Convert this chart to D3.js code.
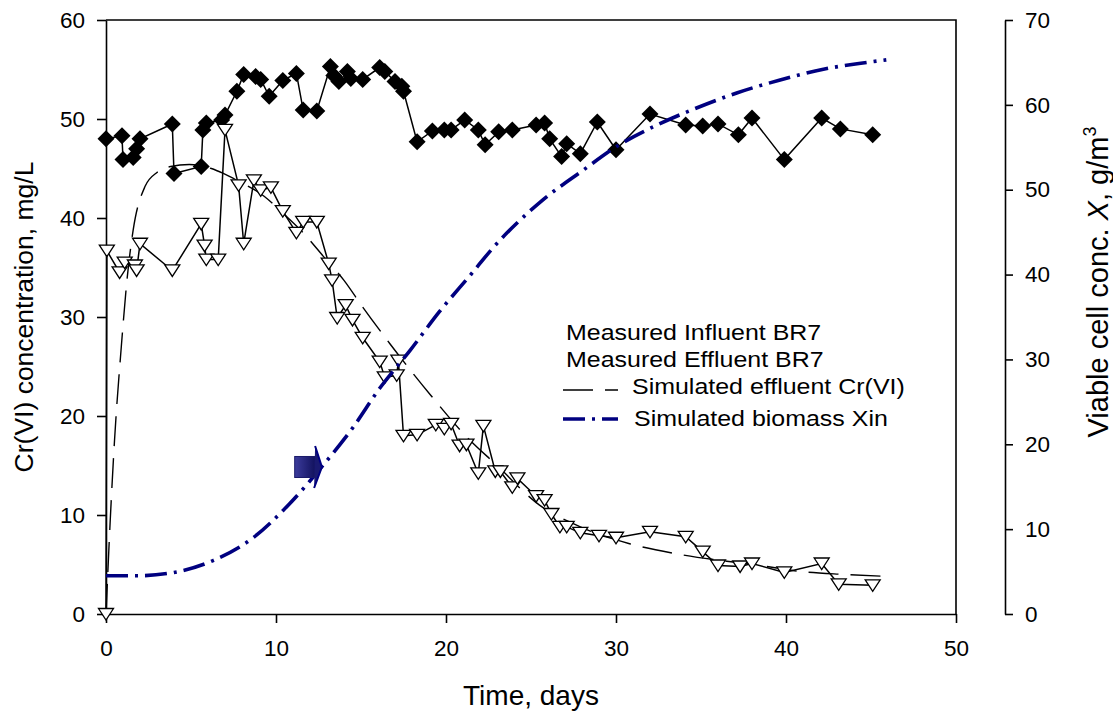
<!DOCTYPE html>
<html>
<head>
<meta charset="utf-8">
<script src="https://cdn.jsdelivr.net/npm/d3@7"></script>
<style>
    body { margin: 0; background: #fff; }
    svg text { font-family: "Liberation Sans", Arial, sans-serif; fill: #000; }
</style>
</head>
<body>
<div id="chart"></div>
<script>
// axis ticks
const xTicks = [0, 10, 20, 30, 40, 50];
const yLeftTicks = [0, 10, 20, 30, 40, 50, 60];
const yRightTicks = [0, 10, 20, 30, 40, 50, 60, 70];

// measured influent BR7 (mg/L)
const influentDays = [0, 0.94, 1.0, 1.6, 1.8, 2.0, 3.9, 4.0, 5.6, 5.7, 5.9, 6.8, 7.0, 7.7, 8.1, 8.8, 9.1, 9.6,
    10.4, 11.2, 11.6, 12.4, 13.2, 13.4, 13.7, 14.2, 14.4, 15.1, 16.1, 16.4, 17.0, 17.4, 17.5, 18.3, 19.2, 19.9,
    20.3, 21.1, 21.9, 22.3, 23.1, 23.9, 25.3, 25.8, 26.1, 26.8, 27.1, 27.9, 28.9, 30.0, 32.0, 34.1, 35.1, 36.0,
    37.2, 38.0, 39.9, 42.1, 43.2, 45.1];
const influentConc = [48.0, 48.3, 45.9, 46.1, 47.0, 48.0, 49.5, 44.5, 45.2, 48.9, 49.6, 49.9, 50.4, 52.8, 54.5, 54.3, 54.0, 52.3,
    53.9, 54.6, 50.9, 50.8, 55.3, 54.4, 53.8, 54.8, 54.1, 54.0, 55.2, 54.8, 53.8, 53.3, 52.8, 47.7, 48.8, 48.9,
    48.9, 49.9, 48.9, 47.4, 48.7, 48.9, 49.4, 49.6, 48.0, 46.2, 47.5, 46.5, 49.7, 46.9, 50.5, 49.4, 49.3, 49.5,
    48.4, 50.1, 45.9, 50.1, 49.0, 48.4];

// measured effluent BR7 (mg/L)
const effluentDays = [0, 0.05, 0.8, 1.1, 1.7, 1.8, 2.0, 3.9, 5.6, 5.8, 5.9, 6.6, 7.0, 7.8, 8.1, 8.7, 9.1, 9.7,
    10.4, 11.2, 11.6, 12.4, 13.1, 13.3, 13.6, 14.1, 14.5, 15.1, 16.1, 16.4, 17.1, 17.2, 17.5, 18.3, 19.4, 19.9,
    20.3, 20.8, 21.2, 21.9, 22.2, 22.9, 23.2, 23.9, 24.2, 25.3, 25.8, 26.2, 26.7, 27.1, 27.9, 29.0, 30.0, 32.0,
    34.1, 35.1, 36.0, 37.3, 38.0, 39.9, 42.1, 43.1, 45.1];
const effluentConc = [0, 36.7, 34.5, 35.5, 35.2, 34.7, 37.4, 34.7, 39.4, 37.2, 35.8, 35.8, 48.9, 43.3, 37.4, 43.8, 42.8, 43.1,
    40.7, 38.5, 39.6, 39.6, 35.4, 33.7, 29.9, 31.2, 29.7, 27.9, 25.5, 23.9, 24.1, 25.6, 18.0, 18.1, 19.1, 18.7,
    19.2, 17.0, 17.1, 14.2, 19.0, 14.4, 14.4, 12.8, 13.7, 11.9, 11.5, 10.1, 8.8, 8.8, 8.2, 7.9, 7.7, 8.3,
    7.8, 6.3, 4.9, 4.8, 5.1, 4.2, 5.1, 3.0, 2.9];

// simulated effluent Cr(VI) (mg/L)
const simDays = [0, 0.25, 0.5, 0.9, 1.25, 1.6, 2.3, 3.0, 3.8, 4.9, 6.2, 6.9, 7.7, 9.3, 10.4, 11.6, 12.8, 14.0,
    15.1, 16.7, 19.1, 21.1, 23.0, 25.5, 27.9, 30.8, 33.8, 38.5, 40.8, 43.4, 46.0];
const simConc = [0, 9.5, 17.5, 27.0, 34.0, 38.8, 43.2, 44.6, 45.2, 45.4, 45.0, 44.5, 43.8, 42.2, 40.5, 38.5, 36.1, 33.7,
    31.0, 27.3, 22.1, 18.1, 15.0, 11.0, 8.8, 7.1, 6.0, 4.9, 4.3, 4.0, 3.8];

// simulated biomass Xin (g/m3, right axis)
const biomassDays = [0, 1.8, 4.0, 6.3, 8.6, 10.8, 12.8, 14.5, 16.1, 17.9, 19.6, 21.5, 22.7, 25.7, 28.0, 30.2,
    32.5, 34.7, 37.1, 39.6, 42.2, 44.4, 45.9];
const biomassX = [4.5, 4.5, 4.9, 6.3, 8.9, 13.0, 17.6, 21.9, 26.6, 31.1, 35.6, 40.1, 43.0, 48.8, 52.2, 55.3,
    57.7, 59.6, 61.4, 62.9, 64.2, 64.9, 65.3];

const legendText = ["Measured Influent BR7", "Measured Effluent BR7", "Simulated effluent Cr(VI)", "Simulated biomass Xin"];

// block arrow annotation, in data units
const arrowTail = 11.1, arrowBodyEnd = 12.3, arrowTip = 12.7, arrowConc = 14.85;

class Chart {

    constructor() {
        this.x = d3.scaleLinear().domain([0, 50]).range([106, 956]);
        this.y = d3.scaleLinear().domain([0, 60]).range([614, 20]);
        this.yR = d3.scaleLinear().domain([0, 70]).range([614, 20]);

        this.svg = d3.select("#chart")
            .append("svg")
            .attr("width", 1113)
            .attr("height", 715);

        this.drawAxes();
        this.drawSeries();
        this.drawArrow();
        this.drawLegend();
    }

    drawAxes() {
        let svg = this.svg;

        //left axis
        let left = svg.append("g")
            .attr("transform", "translate(106,0)")
            .call(d3.axisLeft(this.y).tickValues(yLeftTicks).tickSize(9).tickSizeOuter(0).tickPadding(12));

        //bottom axis
        let bottom = svg.append("g")
            .attr("transform", "translate(0,614)")
            .call(d3.axisBottom(this.x).tickValues(xTicks).tickSize(9).tickSizeOuter(0).tickPadding(17));

        //right axis (biomass)
        let right = svg.append("g")
            .attr("transform", "translate(1005,0)")
            .call(d3.axisRight(this.yR).tickValues(yRightTicks).tickSize(8).tickSizeOuter(0).tickPadding(12));

        [left, bottom, right].forEach(function (g) {
            g.attr("font-size", 22.5).attr("font-family", "Liberation Sans, Arial, sans-serif");
            g.selectAll("path, line").attr("stroke", "#000").attr("stroke-width", 1.6);
        });

        //frame top and right
        svg.append("path")
            .attr("d", "M106," + this.y(60) + "H" + this.x(50) + "V" + this.y(0))
            .attr("fill", "none")
            .attr("stroke", "#000")
            .attr("stroke-width", 1.6);

        //axis titles
        svg.append("text")
            .text("Time, days")
            .attr("x", (this.x(0) + this.x(50)) / 2)
            .attr("y", 705)
            .attr("text-anchor", "middle")
            .attr("font-size", 28);

        svg.append("text")
            .text("Cr(VI) concentration, mg/L")
            .attr("transform", "translate(33," + (this.y(30)) + ") rotate(-90)")
            .attr("text-anchor", "middle")
            .attr("font-size", 26.5);

        let rt = svg.append("text")
            .attr("transform", "translate(1108,282) rotate(-90)")
            .attr("text-anchor", "middle")
            .attr("font-size", 29);
        rt.append("tspan").text("Viable cell conc. ");
        rt.append("tspan").text("X").attr("font-style", "italic");
        rt.append("tspan").text(", g/m");
        rt.append("tspan").text("3").attr("font-size", 18).attr("dy", -12);
    }

    drawSeries() {
        let x = this.x, y = this.y, yR = this.yR;
        let svg = this.svg;

        //simulated effluent, long dash
        let simLine = d3.line()
            .x(function (d, i) { return x(simDays[i]); })
            .y(function (d) { return y(d); })
            .curve(d3.curveMonotoneX);
        svg.append("path")
            .attr("d", simLine(simConc))
            .attr("fill", "none")
            .attr("stroke", "#000")
            .attr("stroke-width", 1.4)
            .attr("stroke-dasharray", "30 12");

        //influent
        let inLine = d3.line()
            .x(function (d, i) { return x(influentDays[i]); })
            .y(function (d) { return y(d); });
        svg.append("path")
            .attr("d", inLine(influentConc))
            .attr("fill", "none")
            .attr("stroke", "#000")
            .attr("stroke-width", 1.5);
        svg.selectAll(".diamond")
            .data(influentConc)
            .enter()
            .append("path")
            .attr("class", "diamond")
            .attr("d", "M0,-8.5L8.5,0L0,8.5L-8.5,0Z")
            .attr("transform", function (d, i) { return "translate(" + x(influentDays[i]) + "," + y(d) + ")"; })
            .attr("fill", "#000");

        //effluent
        let effLine = d3.line()
            .x(function (d, i) { return x(effluentDays[i]); })
            .y(function (d) { return y(d); });
        svg.append("path")
            .attr("d", effLine(effluentConc))
            .attr("fill", "none")
            .attr("stroke", "#000")
            .attr("stroke-width", 1.5);
        svg.selectAll(".tri")
            .data(effluentConc)
            .enter()
            .append("path")
            .attr("class", "tri")
            .attr("d", "M-7.5,-5.5L7.5,-5.5L0,6Z")
            .attr("transform", function (d, i) { return "translate(" + x(effluentDays[i]) + "," + y(d) + ")"; })
            .attr("fill", "#fff")
            .attr("stroke", "#000")
            .attr("stroke-width", 1.3);

        //biomass, dash-dot, right axis
        let bioLine = d3.line()
            .x(function (d, i) { return x(biomassDays[i]); })
            .y(function (d) { return yR(d); })
            .curve(d3.curveMonotoneX);
        svg.append("path")
            .attr("d", bioLine(biomassX))
            .attr("fill", "none")
            .attr("stroke", "#000080")
            .attr("stroke-width", 3.6)
            .attr("stroke-dasharray", "22 7 3 7");
    }

    drawArrow() {
        let svg = this.svg;
        let grad = svg.append("defs")
            .append("linearGradient")
            .attr("id", "arrowGrad");
        grad.append("stop").attr("offset", "0%").attr("stop-color", "#3c3c9c");
        grad.append("stop").attr("offset", "100%").attr("stop-color", "#12125e");

        let x0 = this.x(arrowTail), x1 = this.x(arrowBodyEnd), x2 = this.x(arrowTip);
        let cy = this.y(arrowConc);

        svg.append("rect")
            .attr("x", x0)
            .attr("y", cy - 10.5)
            .attr("width", x1 - x0)
            .attr("height", 21)
            .attr("fill", "url(#arrowGrad)")
            .attr("stroke", "#1a1a6a")
            .attr("stroke-width", 1);

        svg.append("path")
            .attr("d", "M" + x1 + "," + (cy - 21) + "L" + x2 + "," + cy + "L" + (x1 - 1) + "," + (cy + 21))
            .attr("fill", "#1a1a70")
            .attr("stroke", "#000080")
            .attr("stroke-width", 2);
    }

    drawLegend() {
        let svg = this.svg;
        let rows = [340, 367, 394, 426];
        let offs = [0, 0, 66, 68];

        // text is a bit wider than plain Arial in the original
        let lg = svg.append("g")
            .attr("transform", "translate(566,0) scale(1.11,1)");

        lg.selectAll(".legend")
            .data(legendText)
            .enter()
            .append("text")
            .attr("class", "legend")
            .text(function (d) { return d; })
            .attr("x", function (d, i) { return offs[i] / 1.11; })
            .attr("y", function (d, i) { return rows[i]; })
            .attr("font-size", 22.5);

        svg.append("line")
            .attr("x1", 563).attr("x2", 618)
            .attr("y1", 390).attr("y2", 390)
            .attr("stroke", "#000")
            .attr("stroke-width", 1.4)
            .attr("stroke-dasharray", "30 12");

        svg.append("line")
            .attr("x1", 563).attr("x2", 618)
            .attr("y1", 419).attr("y2", 419)
            .attr("stroke", "#000080")
            .attr("stroke-width", 3.6)
            .attr("stroke-dasharray", "22 7 3 7");
    }
}

new Chart();
</script>
</body>
</html>
